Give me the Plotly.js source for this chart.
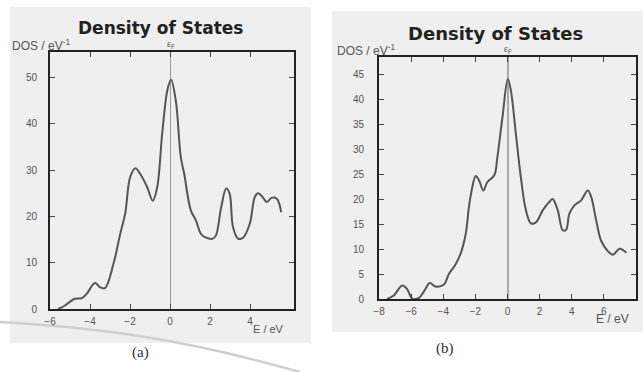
<!DOCTYPE html>
<html><head><meta charset="utf-8">
<script src="https://cdn.plot.ly/plotly-3.0.1.min.js"></script>
<style>html,body{margin:0;padding:0;background:#fff}</style>
</head><body><div id="chart" style="width:643px;height:372px"></div>
<script>
// Panel (a)
const energyA = [-5.6,-5.27,-4.76,-4.43,-4.18,-3.75,-3.5,-3.25,-2.83,-2.49,-2.24,-1.99,-1.73,-1.4,-1.14,-0.86,-0.64,-0.39,-0.13,0.05,0.29,0.54,0.71,1.04,1.3,1.55,1.8,2.14,2.3,2.56,2.81,2.98,3.15,3.4,3.65,3.99,4.24,4.41,4.66,4.83,5.08,5.34,5.56];
const dosA =    [0,0.7,2.2,2.3,3.2,5.6,4.7,4.5,9.7,16.2,20.6,28.5,30.4,28.5,26.3,23.4,26.3,37.9,47.3,49.5,45,32.8,29.2,21.3,19.1,16.2,15.4,15.2,15.9,22,26,24.9,17.7,15.2,15.4,18.4,24.2,25,24,23.1,24,23.8,20.9];
// Panel (b)
const energyB = [-7.5,-7.08,-6.56,-6.25,-5.94,-5.52,-5.21,-4.83,-4.48,-3.96,-3.65,-3.23,-2.92,-2.6,-2.4,-2.19,-1.98,-1.77,-1.5,-1.25,-0.83,-0.63,-0.31,0.02,0.21,0.52,0.83,1.15,1.46,1.77,2.19,2.6,2.81,3.13,3.44,3.65,3.85,4.17,4.58,5.0,5.21,5.52,5.83,6.25,6.56,6.98,7.4];
const dosB =    [0,0.7,2.7,2.0,0.1,0.2,1.5,3.2,2.5,2.9,5.0,7.0,9.1,13.1,18.5,22.5,24.7,23.8,21.8,23.5,24.8,28.5,36.6,44.2,41.9,33.2,24.5,17.8,15.2,15.4,17.8,19.5,20.1,17.8,13.8,13.9,17.1,18.8,19.8,21.8,20.5,15.8,11.7,9.6,8.9,10.1,9.3];

const xTicksA = [-6,-4,-2,0,2,4];
const yTicksA = [0,10,20,30,40,50];
const xTicksB = [-8,-6,-4,-2,0,2,4,6];
const yTicksB = [0,5,10,15,20,25,30,35,40,45];

const W = 643, H = 372;
const px = x => x / W;
const py = y => 1 - y / H;

const sans = 'Liberation Sans, Arial, sans-serif';
const titleFont = 'DejaVu Sans, Arial, sans-serif';
const tickFont = {family: sans, size: 10, color: '#555'};
function axisBase(extra) {
  return Object.assign({
    showline: true, mirror: 'ticks', linecolor: '#222', linewidth: 2,
    ticks: 'inside', ticklen: 5, tickcolor: '#444', tickwidth: 1,
    showgrid: false, zeroline: false, tickfont: tickFont, fixedrange: true
  }, extra);
}

const traces = [
  {x: energyA, y: dosA, xaxis: 'x', yaxis: 'y', mode: 'lines',
   line: {color: '#555', width: 2, shape: 'spline', smoothing: 1}, hoverinfo: 'skip'},
  {x: energyB, y: dosB, xaxis: 'x2', yaxis: 'y2', mode: 'lines',
   line: {color: '#555', width: 2, shape: 'spline', smoothing: 1}, hoverinfo: 'skip'}
];

function pathFrom(pts) {
  return 'M ' + px(pts[0][0]) + ' ' + py(pts[0][1]) + ' C ' +
    pts.slice(1).map(p => px(p[0]) + ' ' + py(p[1])).join(', ');
}

function note(text, x, y, size, opts) {
  return Object.assign({text: text, xref: 'paper', yref: 'paper', x: px(x), y: py(y),
    xanchor: 'center', yanchor: 'middle', showarrow: false,
    font: {family: sans, size: size, color: '#555'}}, opts || {});
}

const layout = {
  width: W, height: H, margin: {l: 0, r: 0, t: 0, b: 0},
  paper_bgcolor: '#fff', plot_bgcolor: '#fff', showlegend: false,
  xaxis: axisBase({domain: [px(50), px(294)], range: [-6, 6.2], tickvals: xTicksA,
    zeroline: true, zerolinecolor: '#999', zerolinewidth: 1, anchor: 'y', ticklabelstandoff: 2}),
  yaxis: axisBase({domain: [py(309), py(52)], range: [0, 55.5], tickvals: yTicksA, anchor: 'x', ticklabelstandoff: 9}),
  xaxis2: axisBase({domain: [px(379), px(636)], range: [-8, 8], tickvals: xTicksB,
    zeroline: true, zerolinecolor: '#aaa', zerolinewidth: 2, anchor: 'y2', ticklabelstandoff: 2}),
  yaxis2: axisBase({domain: [py(299), py(57)], range: [0, 48.6], tickvals: yTicksB, anchor: 'x2', ticklabelstandoff: 11}),
  shapes: [
    {type: 'rect', xref: 'paper', yref: 'paper', x0: px(10), x1: px(311), y0: py(343), y1: py(7),
     fillcolor: '#efefef', line: {width: 0}, layer: 'below'},
    {type: 'rect', xref: 'paper', yref: 'paper', x0: px(332), x1: px(643), y0: py(332), y1: py(11),
     fillcolor: '#efefef', line: {width: 0}, layer: 'below'},
    {type: 'path', xref: 'paper', yref: 'paper',
     path: pathFrom([[0, 322], [100, 328], [180, 338], [300, 372]]),
     line: {color: '#cfcfcf', width: 2.5}, layer: 'below'}
  ],
  annotations: [
    note('<b>Density of States</b>', 160, 28, 17, {font: {family: titleFont, size: 17, color: '#222'}}),
    note('DOS / eV<sup>-1</sup>', 10, 45, 12, {xanchor: 'left'}),
    note('ε<sub>F</sub>', 171, 44, 9),
    note('E / eV', 268, 329, 11),
    note('(a)', 140, 352, 15, {font: {family: 'Liberation Serif, DejaVu Serif, serif', size: 15, color: '#333'}}),

    note('<b>Density of States</b>', 495, 33, 18, {font: {family: titleFont, size: 18, color: '#222'}}),
    note('DOS / eV<sup>-1</sup>', 335, 50, 12, {xanchor: 'left'}),
    note('ε<sub>F</sub>', 508, 49, 9),
    note('E / eV', 612, 319, 12),
    note('(b)', 445, 348, 15, {font: {family: 'Liberation Serif, DejaVu Serif, serif', size: 15, color: '#333'}})
  ]
};

Plotly.newPlot('chart', traces, layout, {displayModeBar: false, staticPlot: true});
</script>
</body></html>
